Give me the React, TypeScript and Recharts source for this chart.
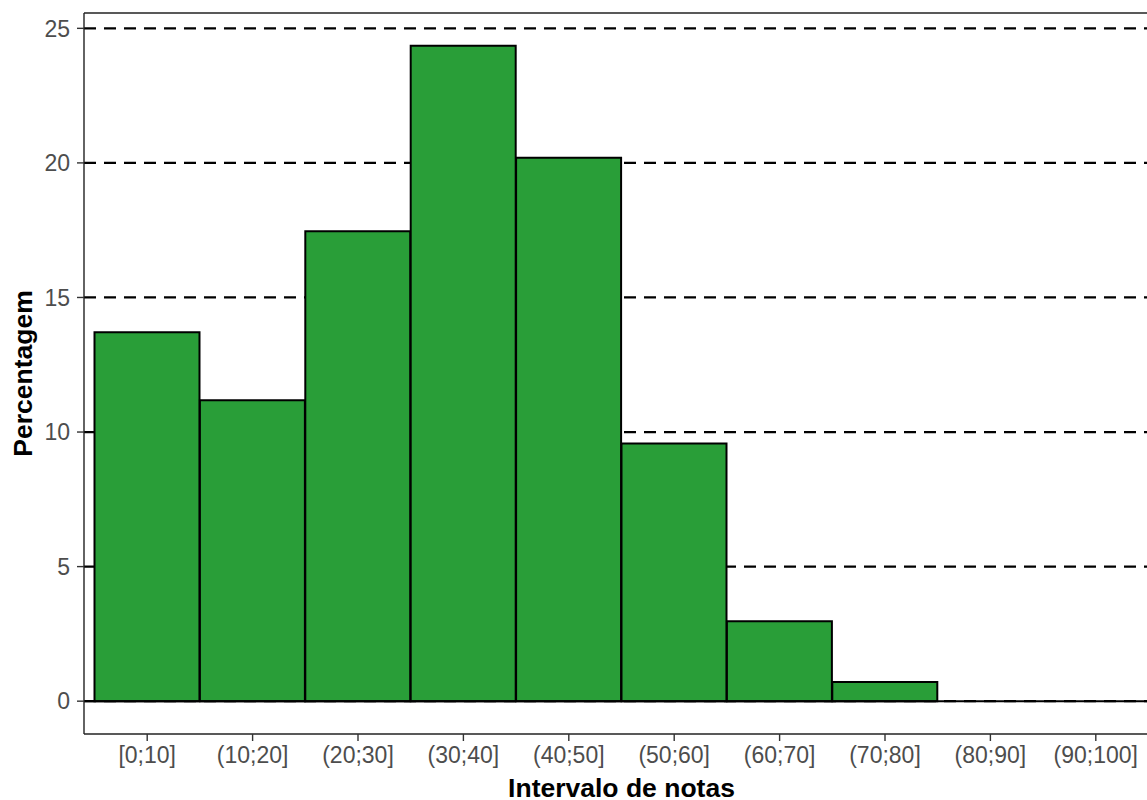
import { BarChart, Bar, XAxis, YAxis, CartesianGrid, ReferenceLine } from "recharts";

const faixas = ["[0;10]", "(10;20]", "(20;30]", "(30;40]", "(40;50]", "(50;60]", "(60;70]", "(70;80]", "(80;90]", "(90;100]"];
const percentagens = [13.71, 11.18, 17.46, 24.35, 20.19, 9.57, 2.97, 0.71, 0, 0];
const yTicks = [0, 5, 10, 15, 20, 25];

const data = faixas.map((faixa, i) => ({ faixa, pct: percentagens[i] }));

const font = "'Liberation Sans', Arial, sans-serif";
const tickStyle = { fontSize: 23, fill: "#4D4D4D", fontFamily: font };
const titleStyle = { fontSize: 26.5, fontWeight: 700, fill: "#000", fontFamily: font };

export default function App() {
  return (
    <div style={{ position: "absolute", left: 0, top: 0, width: 1147, height: 800, overflow: "hidden", background: "#fff" }}>
      <BarChart
        width={1180}
        height={800}
        data={data}
        barCategoryGap={0}
        margin={{ top: 12, right: 21, bottom: 0, left: 0 }}
      >
        <CartesianGrid
          vertical={false}
          horizontalValues={yTicks}
          stroke="#000"
          strokeWidth={2.2}
          strokeDasharray="12 8"
        />
        <XAxis
          dataKey="faixa"
          height={66}
          padding={{ left: 10.5, right: 10.5 }}
          axisLine={{ stroke: "#222", strokeWidth: 1.4 }}
          tickLine={{ stroke: "#333", strokeWidth: 1.4 }}
          tickSize={7}
          tickMargin={6}
          tick={tickStyle}
          interval={0}
          label={{ value: "Intervalo de notas", position: "insideBottom", offset: 3, style: titleStyle }}
        />
        <XAxis
          xAxisId="top"
          dataKey="faixa"
          orientation="top"
          height={1}
          tick={false}
          tickLine={false}
          axisLine={{ stroke: "#222", strokeWidth: 1.4 }}
        />
        <YAxis
          type="number"
          width={84}
          domain={[-1.22, 25.57]}
          ticks={yTicks}
          allowDataOverflow
          axisLine={{ stroke: "#222", strokeWidth: 1.4 }}
          tickLine={{ stroke: "#333", strokeWidth: 1.4 }}
          tickSize={7}
          tickMargin={7}
          tick={tickStyle}
          label={{ value: "Percentagem", angle: -90, position: "center", dx: -19.5, style: titleStyle }}
        />
        <Bar dataKey="pct" fill="#299E38" stroke="#000" strokeWidth={2} isAnimationActive={false} />
        <ReferenceLine y={0} stroke="#000" strokeWidth={2} />
      </BarChart>
    </div>
  );
}
